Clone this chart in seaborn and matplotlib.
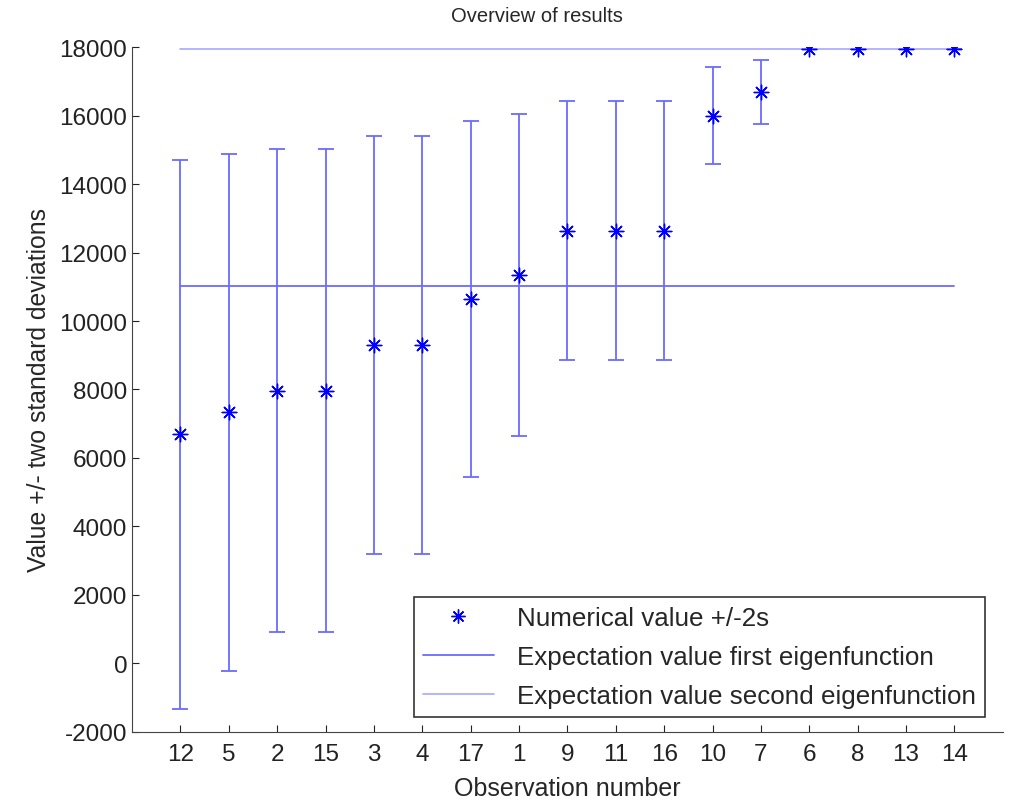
import matplotlib

matplotlib.use("Agg")

import matplotlib.pyplot as plt
import numpy as np
import pandas as pd
import seaborn as sns
from matplotlib.lines import Line2D

# observation order as shown on the x axis (sorted by value)
observations = ["12", "5", "2", "15", "3", "4", "17", "1", "9", "11", "16", "10", "7", "6", "8", "13", "14"]
values = [6690, 7330, 7970, 7970, 9300, 9300, 10640, 11350, 12640, 12640, 12640, 16000, 16700, 17950, 17950, 17950, 17950]
two_sd = [8010, 7540, 7045, 7045, 6115, 6115, 5200, 4705, 3780, 3780, 3780, 1410, 935, 0, 0, 0, 0]
expect_first = 11030
expect_second = 17950

BLUE = "#0000ff"
BAR_BLUE = "#6b6bff"
LIGHT_BLUE = "#a8a8ff"
ASTERISK = (8, 2, 0)

sns.set_style("ticks")
plt.rcParams["font.family"] = ["Liberation Sans", "DejaVu Sans"]
plt.rcParams["axes.unicode_minus"] = False

frame = pd.DataFrame({"obs": observations, "value": values, "two_sd": two_sd})
frame["pos"] = np.arange(1, len(frame) + 1)

fig = plt.figure(figsize=(10.16, 8.03), dpi=100)
ax = fig.add_axes([0.13, 0.0872, 0.857, 0.853])

ax.errorbar(frame["pos"], frame["value"], yerr=frame["two_sd"], fmt="none",
            ecolor=BAR_BLUE, elinewidth=1.3, capsize=5.8, capthick=1.3, zorder=2)
sns.scatterplot(data=frame, x="pos", y="value", marker=ASTERISK, s=110, color=BLUE,
                edgecolor=BLUE, linewidth=1.0, ax=ax, zorder=3, legend=False)

line_x = [frame["pos"].iloc[0], frame["pos"].iloc[-1]]
sns.lineplot(x=line_x, y=[expect_first, expect_first], color=BAR_BLUE, linewidth=1.3, ax=ax)
sns.lineplot(x=line_x, y=[expect_second, expect_second], color=LIGHT_BLUE, linewidth=1.2, ax=ax)

ax.set_xlim(0, len(frame) + 1)
ax.set_ylim(-2000, 18000)
ax.set_xticks(frame["pos"])
ax.set_xticklabels(frame["obs"])
ax.set_yticks(np.arange(-2000, 18001, 2000))
ax.tick_params(axis="both", direction="in", length=5, labelsize=17.5, colors="#222222")
ax.tick_params(axis="x", pad=8)
sns.despine(ax=ax)
for side in ["left", "bottom"]:
    ax.spines[side].set_color("#444444")

fig.text(0.528, 0.979, "Overview of results", fontsize=14.5, ha="center", va="center")
ax.set_xlabel("Observation number", fontsize=18, labelpad=8)
ax.set_ylabel("Value +/- two standard deviations", fontsize=17.8, labelpad=6)

handles = [
    Line2D([], [], marker=ASTERISK, markersize=10, markeredgewidth=1.0, color=BLUE, linestyle="none"),
    Line2D([], [], color=BAR_BLUE, linewidth=1.3),
    Line2D([], [], color=LIGHT_BLUE, linewidth=1.2),
]
labels = ["Numerical value +/-2s", "Expectation value first eigenfunction", "Expectation value second eigenfunction"]
leg = ax.legend(handles, labels, loc="lower right", bbox_to_anchor=(985 / 1016, 85 / 803),
                bbox_transform=fig.transFigure, borderaxespad=0, fontsize=18.7,
                frameon=True, fancybox=False, edgecolor="black", handlelength=2.7,
                handletextpad=0.9, borderpad=0.35, labelspacing=0.58)
leg.get_frame().set_linewidth(1.2)

fig.savefig("out.png", dpi=100)
